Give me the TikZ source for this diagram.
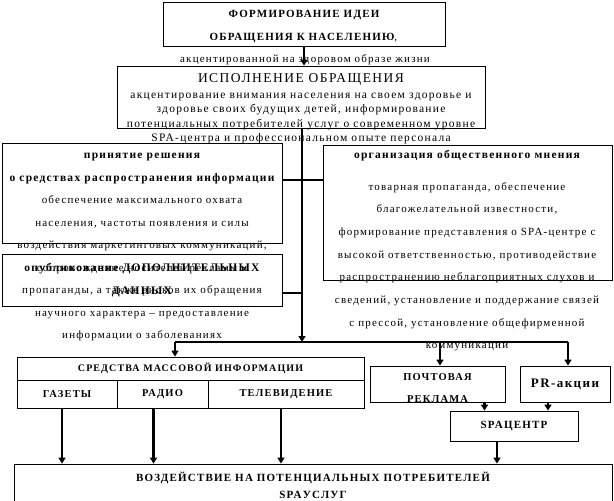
\documentclass[tikz,border=0pt]{standalone}
\usepackage{fontspec}
\setmainfont{Liberation Serif}[LetterSpace=11]
\usetikzlibrary{arrows.meta, positioning}

\begin{document}
\begin{tikzpicture}[x=1pt, y=-1pt,
  every node/.style={inner sep=0pt},
  box/.style={draw, line width=0.8pt, fill=none},
  txt/.style={font=\fontsize{11}{22.5}\selectfont, align=center},
  head/.style={font=\fontsize{11.5}{22.5}\selectfont\bfseries, align=center},
  link/.style={line width=2.6pt},
  arr/.style={line width=2.6pt, -{Triangle[length=6pt, width=7pt]}}]
\useasboundingbox (0,0) rectangle (614,501);
% idea
\node[box, minimum width=282, minimum height=44] (idea) at (304,24) {};
\node[head, font=\fontsize{11}{23}\selectfont\bfseries] (ideaTxt) at (304,26.5) {ФОРМИРОВАНИЕ ИДЕИ\\ОБРАЩЕНИЯ К НАСЕЛЕНИЮ\textmd{,}};
\node[txt] (ideaSub) at (305,60) {акцентированной на здоровом образе жизни};
% execution of the appeal
\node[box, minimum width=368, minimum height=62] (exec) at (301,97) {};
\node[font=\fontsize{13.5}{16}\selectfont] (execHead) at (301,79) {ИСПОЛНЕНИЕ ОБРАЩЕНИЯ};
\node[txt, font=\fontsize{11.5}{14.3}\selectfont, anchor=north] (execTxt) at (301,93)
  {акцентирование внимания населения на своем здоровье и\\
   здоровье своих будущих детей, информирование\\
   потенциальных потребителей услуг о современном уровне\\
   SPA-центра и профессиональном опыте персонала};
% decision box and additional data box
\node[box, minimum width=280, minimum height=100] (decide) at (142,193) {};
\node[box, minimum width=280, minimum height=52] (extra) at (142,280) {};
\node[txt, anchor=north] (decideTxt) at (142,153)
  {\bfseries\fontsize{11.5}{22.5}\selectfont принятие решения\\
   \bfseries\fontsize{11.5}{22.5}\selectfont о средствах распространения информации\\
   обеспечение максимального охвата\\
   населения, частоты появления и силы\\
   воздействия маркетинговых коммуникаций,\\
   сопровождение носителей рекламы и\\
   пропаганды, а также рисков их обращения\\
   научного характера -- предоставление\\
   информации о заболеваниях};
\node[head] (extraTxt) at (142,280) {опубликование ДОПОЛНИТЕЛЬНЫХ\\ДАННЫХ};
% public opinion
\node[box, minimum width=289, minimum height=135] (opinion) at (467.5,212.5) {};
\node[head] (opinionHead) at (467,156) {организация общественного мнения};
\node[txt, font=\fontsize{11}{22.7}\selectfont, anchor=north] (opinionTxt) at (467,182)
  {товарная пропаганда, обеспечение\\
   благожелательной известности,\\
   формирование представления о SPA-центре с\\
   высокой ответственностью, противодействие\\
   распространению неблагоприятных слухов и\\
   сведений, установление и поддержание связей\\
   с прессой, установление общефирменной\\
   коммуникации};
% mass media table
\node[box, minimum width=347, minimum height=23] (media) at (190.5,368.5) {};
\node[head, font=\fontsize{10}{12}\selectfont\bfseries] (mediaTxt) at (190.5,368.5) {СРЕДСТВА МАССОВОЙ ИНФОРМАЦИИ};
\node[box, minimum width=100, minimum height=28, font=\fontsize{10.5}{13}\selectfont\bfseries] (paper) at (67,394) {ГАЗЕТЫ};
\node[box, minimum width=91, minimum height=28, font=\fontsize{10.5}{13}\selectfont\bfseries] (radio) at (162.5,394) {РАДИО};
\node[box, minimum width=156, minimum height=28, font=\fontsize{10.5}{13}\selectfont\bfseries] (tv) at (286,394) {ТЕЛЕВИДЕНИЕ};
% mail, PR, spa centre
\node[box, minimum width=135, minimum height=36] (mail) at (437.5,384) {};
\node[head, font=\fontsize{10.5}{22}\selectfont\bfseries] (mailTxt) at (437.5,388) {ПОЧТОВАЯ\\РЕКЛАМА};
\node[box, minimum width=90, minimum height=36, font=\fontsize{13}{15}\selectfont\bfseries] (pr) at (565,384) {PR-акции};
\node[box, minimum width=128, minimum height=30, font=\fontsize{11}{13}\selectfont\bfseries] (spa) at (514,426) {SPAЦЕНТР};
% effect on consumers
\node[box, minimum width=598, minimum height=44] (effect) at (313,486) {};
\node[head, font=\fontsize{11}{17}\selectfont\bfseries] (effectTxt) at (313,485.5) {ВОЗДЕЙСТВИЕ НА ПОТЕНЦИАЛЬНЫХ ПОТРЕБИТЕЛЕЙ\\SPAУСЛУГ};
% connectors
\coordinate (split) at (302,342);
\coordinate (distL) at (175,342);
\coordinate (distM) at (440,342);
\coordinate (distR) at (568,342);
\draw[arr] (idea.south) -- (idea.south |- exec.north);
\draw[arr] (exec.south -| split) -- (split);
\draw[link] (decide.east |- 0,180) -- (opinion.west |- 0,180);
\draw[link] (extra.east |- 0,293) -- (split |- 0,293);
\draw[link] (distL) -- (distR);
\draw[arr] (distL) -- (distL |- media.north);
\draw[arr] (distM) -- (distM |- mail.north);
\draw[arr] (distR) -- (distR |- pr.north);
\draw[arr] ([xshift=-5pt]paper.south) -- ([xshift=-5pt]paper.south |- effect.north);
\draw[arr] ([xshift=-9pt]radio.south) -- ([xshift=-9pt]radio.south |- effect.north);
\draw[arr] ([xshift=-5pt]tv.south) -- ([xshift=-5pt]tv.south |- effect.north);
\draw[arr] ([xshift=47pt]mail.south) -- ([xshift=47pt]mail.south |- spa.north);
\draw[arr] ([xshift=-17pt]pr.south) -- ([xshift=-17pt]pr.south |- spa.north);
\draw[arr] ([xshift=-17pt]spa.south) -- ([xshift=-17pt]spa.south |- effect.north);
\end{tikzpicture}
\end{document}
